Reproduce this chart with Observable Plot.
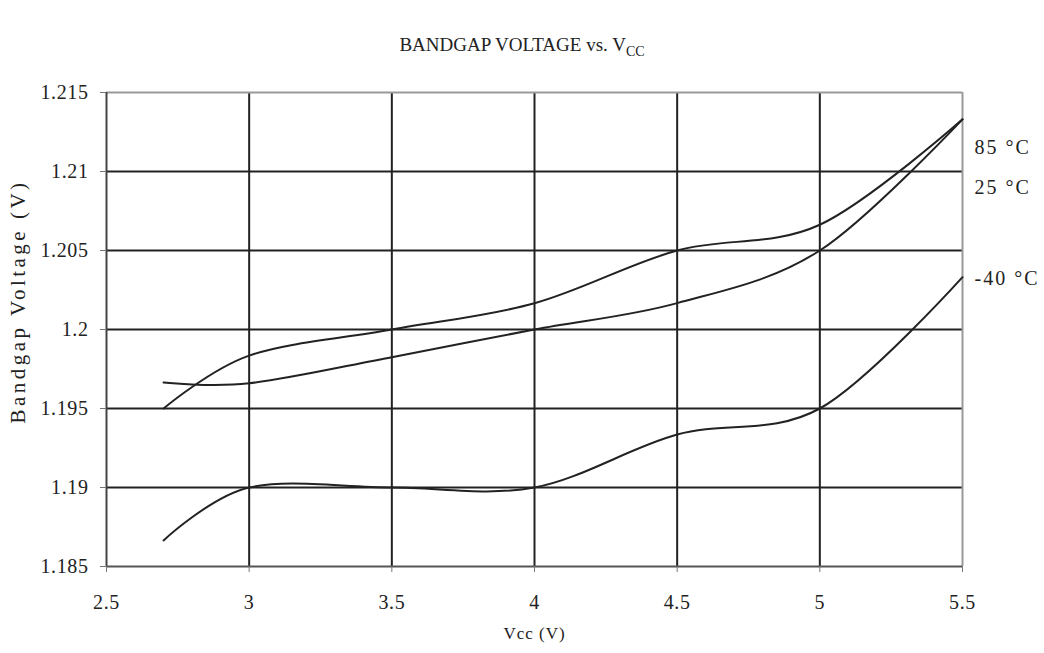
<!DOCTYPE html>
<html>
<head>
<meta charset="utf-8">
<script src="https://cdn.jsdelivr.net/npm/d3@7"></script>
<script src="https://cdn.jsdelivr.net/npm/@observablehq/plot@0.6"></script>
<style>
  html, body { margin: 0; padding: 0; background: #fff; }
  #wrap { width: 1044px; height: 653px; position: relative; font-family: "Liberation Serif", "Times New Roman", serif; }
  #title { height: 70px; text-align: center; font-size: 19px; color: #222; box-sizing: border-box; line-height: 19px; }
  #title span.t { display: inline-block; margin-top: 35px; }
  #title sub { font-size: 14px; vertical-align: -5px; line-height: 0; }
  #chart svg text { font-family: "Liberation Serif", "Times New Roman", serif; }
</style>
</head>
<body>
<div id="wrap">
  <div id="title"><span class="t">BANDGAP VOLTAGE vs. V<sub>CC</sub></span></div>
  <div id="chart"></div>
</div>
<script>
// Data
const vcc = [2.7, 3, 3.5, 4, 4.5, 5, 5.5];
const series = ["85 °C", "25 °C", "-40 °C"];
const v85 = [1.195, 1.19835, 1.2, 1.20166, 1.205, 1.20663, 1.2133];
const v25 = [1.19665, 1.1966, 1.19825, 1.2, 1.20167, 1.205, 1.2133];
const vm40 = [1.18665, 1.19, 1.19, 1.19, 1.19335, 1.195, 1.20331];
const xTicks = [2.5, 3, 3.5, 4, 4.5, 5, 5.5];
const yTicks = [1.185, 1.19, 1.195, 1.2, 1.205, 1.21, 1.215];
const labelY = [1.2115, 1.209, 1.2032];

const valuesBySeries = [v85, v25, vm40];
const rows = series.flatMap((s, i) => vcc.map((x, j) => ({series: s, vcc: x, v: valuesBySeries[i][j]})));
const labels = series.map((s, i) => ({series: s, vcc: 5.5, v: labelY[i]}));

const fmt = d => String(+d.toFixed(3));
const font = "Liberation Serif, Times New Roman, serif";

const chart = Plot.plot({
  width: 1044,
  height: 583,
  marginLeft: 106,
  marginRight: 82,
  marginTop: 22,
  marginBottom: 87,
  style: "font-family: 'Liberation Serif', serif; font-size: 16px; color: #222; background: #fff;",
  x: {domain: [2.5, 5.5]},
  y: {domain: [1.185, 1.215]},
  marks: [
    Plot.gridX(xTicks.slice(1, -1), {stroke: "#222", strokeOpacity: 1, strokeWidth: 2}),
    Plot.gridY(yTicks.slice(1, -1), {stroke: "#222", strokeOpacity: 1, strokeWidth: 2}),
    Plot.ruleY([1.215], {stroke: "#999", strokeWidth: 2}),
    Plot.ruleX([5.5], {stroke: "#999", strokeWidth: 2}),
    Plot.ruleX([2.5], {stroke: "#444", strokeWidth: 2}),
    Plot.ruleY([1.185], {stroke: "#555", strokeWidth: 2}),
    Plot.axisX({ticks: xTicks, tickFormat: fmt, tickSize: 6, tickPadding: 22, stroke: "#777", label: null, fontSize: 20, fontFamily: font}),
    Plot.axisY({ticks: yTicks, tickFormat: fmt, tickSize: 6, tickPadding: 12, stroke: "#777", label: null, fontSize: 20, fontFamily: font}),
    Plot.line(rows, {x: "vcc", y: "v", z: "series", curve: "cardinal", stroke: "#222", strokeWidth: 2}),
    Plot.text(labels, {x: "vcc", y: "v", text: "series", dx: 12, textAnchor: "start", fontSize: 20, fontFamily: font, fill: "#222"}),
    Plot.text(["Vcc (V)"], {frameAnchor: "bottom", dy: 72, textAnchor: "middle", fontSize: 17, fontFamily: font, fill: "#222"}),
    Plot.text(["Bandgap Voltage (V)"], {frameAnchor: "left", dx: -88, dy: -28, rotate: -90, textAnchor: "middle", fontSize: 21, fontFamily: font, fill: "#222"})
  ]
});
document.getElementById("chart").appendChild(chart);
const sel = d3.select(chart).selectAll("text");
sel.filter(function() { return /^[\d.]+$/.test(this.textContent); }).style("letter-spacing", "0.6px");
sel.filter(function() { return /°C$/.test(this.textContent); }).style("letter-spacing", "2px");
sel.filter(function() { return this.textContent === "Vcc (V)"; }).style("letter-spacing", "1px");
sel.filter(function() { return this.textContent === "Bandgap Voltage (V)"; }).style("letter-spacing", "3.5px");
</script>
</body>
</html>
